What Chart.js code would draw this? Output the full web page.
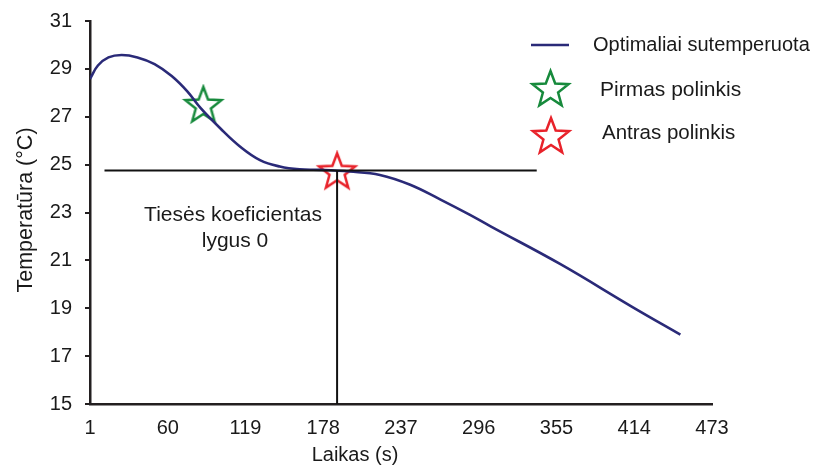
<!DOCTYPE html>
<html>
<head>
<meta charset="utf-8">
<script src="https://cdn.jsdelivr.net/npm/chart.js@4"></script>
<style>
  body { margin: 0; background: #fff; }
  #wrap { width: 818px; height: 470px; }
</style>
</head>
<body>
<div id="wrap"><canvas id="myChart"></canvas></div>
<script>
// values
var timeValues = [1, 7, 15, 25, 37, 50, 63, 75, 85, 100, 115, 130, 145, 160, 176, 198, 221, 244, 267, 289, 305, 358, 413, 449];
var tempValues = [28.58, 29.14, 29.48, 29.58, 29.48, 29.20, 28.70, 28.05, 27.36, 26.51, 25.75, 25.19, 24.92, 24.80, 24.78, 24.71, 24.57, 24.16, 23.54, 22.91, 22.42, 20.84, 19.04, 17.90];
var xTicks = [1, 60, 119, 178, 237, 296, 355, 414, 473];
var yTicks = [15, 17, 19, 21, 23, 25, 27, 29, 31];
var firstSlope = { x: 87, y: 27.45 };
var secondSlope = { x: 188.5, y: 24.68 };
var flatLineX = [12, 340];
var flatLineY = 24.75;

var navy = '#2a2a78';
var green = '#178a3c';
var red = '#e8222a';
var axisColor = '#231f20';
var font = '"Liberation Sans", Arial, sans-serif';

function makeStar(color, r) {
    var size = Math.ceil(r * 2 + 6);
    var c = document.createElement('canvas');
    c.width = size; c.height = size;
    var g = c.getContext('2d');
    drawStar(g, size / 2, size / 2, r, color);
    return c;
}

function drawStar(g, cx, cy, r, color) {
    var inner = r * 0.42;
    g.beginPath();
    for (var i = 0; i < 10; i++) {
        var rad = i % 2 === 0 ? r : inner;
        var a = -Math.PI / 2 + i * Math.PI / 5;
        var px = cx + rad * Math.cos(a), py = cy + rad * Math.sin(a);
        if (i === 0) g.moveTo(px, py); else g.lineTo(px, py);
    }
    g.closePath();
    g.strokeStyle = color;
    g.lineWidth = 2.5;
    g.lineJoin = 'miter';
    g.stroke();
}

var curve = timeValues.map((t, i) => ({ x: t, y: tempValues[i] }));

var overlayText = {
    id: 'overlayText',
    afterDraw(chart) {
        var g = chart.ctx;
        g.save();
        g.fillStyle = '#1a1a1a';
        g.textBaseline = 'middle';

        // legend
        g.strokeStyle = navy;
        g.lineWidth = 2.5;
        g.beginPath(); g.moveTo(531, 45); g.lineTo(569, 45); g.stroke();
        drawStar(g, 550.5, 90, 19, green);
        drawStar(g, 551, 137, 19, red);
        g.textAlign = 'left';
        g.font = '20px ' + font;
        g.fillText('Optimaliai sutemperuota', 593, 45);
        g.font = '21px ' + font;
        g.fillText('Pirmas polinkis', 600, 90);
        g.font = '20.5px ' + font;
        g.fillText('Antras polinkis', 602, 133);

        // note on the flat part
        g.textAlign = 'center';
        g.font = '21px ' + font;
        g.fillText('Tiesės koeficientas', 233, 215);
        g.fillText('lygus 0', 235, 241);

        // axis titles
        g.font = '20px ' + font;
        g.fillText('Laikas (s)', 355, 455);
        g.translate(26, 210);
        g.rotate(-Math.PI / 2);
        g.font = '21.5px ' + font;
        g.fillText('Temperatūra (°C)', 0, 0);
        g.restore();
    }
};

new Chart(document.getElementById('myChart').getContext('2d'), {
    type: 'line',
    data: {
        datasets: [
            {
                label: 'flat',
                data: flatLineX.map(x => ({ x: x, y: flatLineY })),
                borderColor: '#111',
                borderWidth: 2,
                pointRadius: 0,
            },
            {
                label: 'drop',
                data: [{ x: secondSlope.x, y: 15 }, { x: secondSlope.x, y: flatLineY }],
                borderColor: '#111',
                borderWidth: 2,
                pointRadius: 0,
            },
            {
                label: 'Optimaliai sutemperuota',
                data: curve,
                borderColor: navy,
                borderWidth: 2.6,
                pointRadius: 0,
                tension: 0.4,
            },
            {
                label: 'Pirmas polinkis',
                data: [firstSlope],
                showLine: false,
                pointStyle: makeStar(green, 19),
                pointRadius: 20,
            },
            {
                label: 'Antras polinkis',
                data: [secondSlope],
                showLine: false,
                pointStyle: makeStar(red, 19),
                pointRadius: 20,
            },
        ],
    },
    options: {
        responsive: true,
        maintainAspectRatio: false,
        animation: false,
        layout: { padding: { top: 16, right: 106, left: 0, bottom: 0 } },
        plugins: { legend: { display: false }, tooltip: { enabled: false } },
        scales: {
            x: {
                type: 'linear',
                min: 1,
                max: 473,
                afterBuildTicks: s => { s.ticks = xTicks.map(v => ({ value: v })); },
                afterFit: s => { s.height = 66; s.paddingLeft = 0; s.paddingRight = 0; },
                grid: { display: false },
                border: { display: true, color: axisColor, width: 2.5 },
                ticks: { color: '#1a1a1a', font: { family: font, size: 20 }, padding: 4, maxRotation: 0, autoSkip: false },
            },
            y: {
                min: 15,
                max: 31,
                afterBuildTicks: s => { s.ticks = yTicks.map(v => ({ value: v })); },
                afterFit: s => { s.width = 90; s.paddingTop = 0; s.paddingBottom = 0; },
                grid: { drawOnChartArea: false, drawTicks: true, tickLength: 5, color: axisColor, lineWidth: 2 },
                border: { display: true, color: axisColor, width: 2.5 },
                ticks: { color: '#1a1a1a', font: { family: font, size: 20 }, padding: 13 },
            },
        },
    },
    plugins: [overlayText],
});
</script>
</body>
</html>
